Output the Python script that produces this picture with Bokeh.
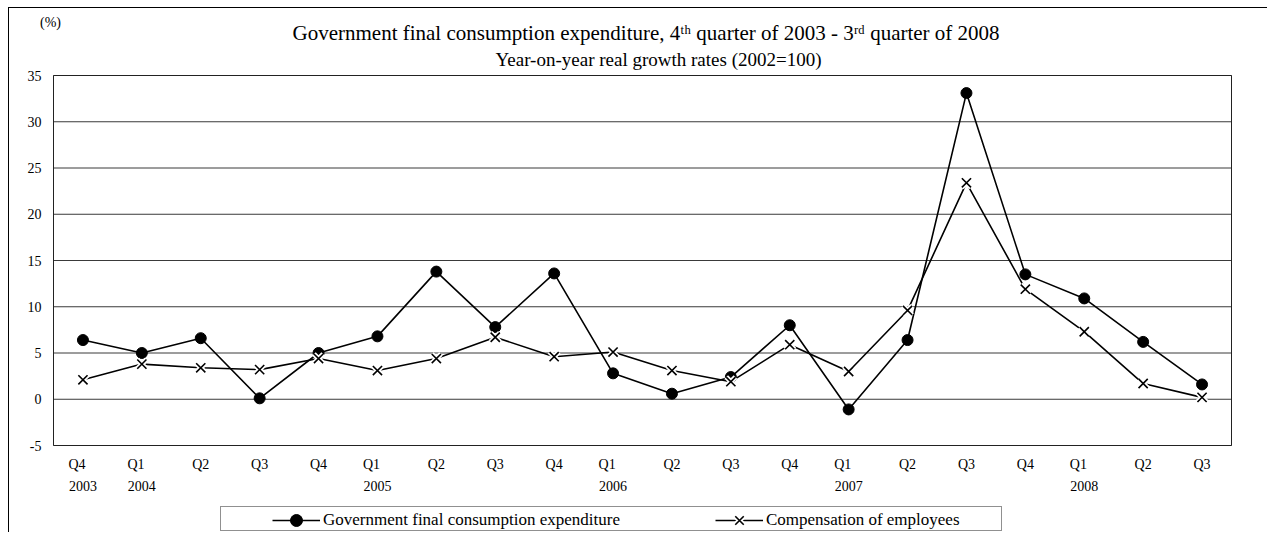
import numpy as np
from bokeh.plotting import figure
from bokeh.models import Range1d, Legend, LegendItem, Label
from bokeh.core.properties import value
from bokeh.embed import file_html
from bokeh.resources import INLINE

# ---------------- data ----------------
quarters = ["Q4", "Q1", "Q2", "Q3", "Q4", "Q1", "Q2", "Q3", "Q4", "Q1",
            "Q2", "Q3", "Q4", "Q1", "Q2", "Q3", "Q4", "Q1", "Q2", "Q3"]
years = ["2003", "2004", "", "", "", "2005", "", "", "", "2006",
         "", "", "", "2007", "", "", "", "2008", "", ""]
gov_expenditure = [6.4, 5.0, 6.6, 0.1, 5.0, 6.8, 13.8, 7.8, 13.6, 2.8,
                   0.6, 2.4, 8.0, -1.1, 6.4, 33.1, 13.5, 10.9, 6.2, 1.6]
compensation = [2.1, 3.8, 3.4, 3.2, 4.4, 3.1, 4.4, 6.7, 4.6, 5.1,
                3.1, 1.9, 5.9, 3.0, 9.6, 23.4, 11.9, 7.3, 1.7, 0.2]
y_ticks = [-5, 0, 5, 10, 15, 20, 25, 30, 35]
series_names = ["Government final consumption expenditure", "Compensation of employees"]
title_text = ("Government final consumption expenditure, 4\u1d57\u02b0 quarter of 2003 - "
              "3\u02b3\u1d48 quarter of 2008")
subtitle = "Year-on-year real growth rates (2002=100)"
unit_label = "(%)"

# ---------------- layout (page pixels) ----------------
FONT = "Liberation Serif"
W, H = 1259, 525                 # canvas size
CX0, CY0 = 9, 8                  # canvas origin on the page (margin + outer border)
PL, PR, PT, PB = 53, 1231, 75, 445   # plot area on the page
N = len(quarters)
YMIN, YMAX = y_ticks[0], y_ticks[-1]
kx = (PR - PL) / N
ky = (PB - PT) / (YMAX - YMIN)

def X(page_x):
    return (page_x - PL) / kx

def Y(page_y):
    return YMIN + (PB - page_y) / ky

x_range = Range1d(X(CX0), X(CX0 + W))
y_range = Range1d(Y(CY0 + H), Y(CY0))

p = figure(width=W, height=H, x_range=x_range, y_range=y_range,
           output_backend="svg", toolbar_location=None,
           x_axis_location=None, y_axis_location=None,
           min_border=0, min_border_left=0, min_border_right=0,
           min_border_top=0, min_border_bottom=0)
p.styles = {"margin-left": "8px", "margin-top": "7px",
            "border-top": "1px solid #000", "border-left": "1px solid #000"}
p.background_fill_color = "white"
p.border_fill_color = "white"
p.outline_line_color = None
p.grid.visible = False

x = np.arange(N) + 0.5

# ---------------- plot area: gridlines, border ----------------
p.segment(x0=[0] * len(y_ticks), x1=[N] * len(y_ticks), y0=y_ticks, y1=y_ticks,
          line_color="#3a3a3a", line_width=1)
p.quad(left=[0], right=[N], bottom=[YMIN], top=[YMAX], fill_color=None,
       line_color="#222222", line_width=1)

# ---------------- tick labels ----------------
p.text(x=[X(41)] * len(y_ticks), y=y_ticks, text=[str(t) for t in y_ticks],
       text_align="right", text_baseline="middle", text_font=value(FONT),
       text_font_size="14px", text_color="black")
qpos = [i + 0.5 - (0.1 if years[i] else 0.0) for i in range(N)]
p.text(x=qpos, y=[Y(464)] * N, text=quarters, text_align="center",
       text_baseline="middle", text_font=value(FONT), text_font_size="14px",
       text_color="black")
yidx = [i for i in range(N) if years[i]]
p.text(x=[i + 0.5 for i in yidx], y=[Y(485)] * len(yidx), text=[years[i] for i in yidx],
       text_align="center", text_baseline="middle", text_font=value(FONT),
       text_font_size="14px", text_color="black")

# ---------------- series ----------------
l1 = p.line(x, gov_expenditure, line_color="black", line_width=1.6)
l2 = p.line(x, compensation, line_color="black", line_width=1.6)
c1 = p.scatter(x, gov_expenditure, marker="circle", size=11, fill_color="black", line_color="black")
h2 = p.scatter(x, compensation, marker="x", size=13, line_color="white", line_width=5)
x2 = p.scatter(x, compensation, marker="x", size=13, line_color="black", line_width=1.6)

# ---------------- titles ----------------
p.add_layout(Label(x=X(292), y=Y(32), text=title_text, text_align="left",
                   text_baseline="middle", text_font=FONT, text_font_size="21px",
                   text_color="black"))
p.add_layout(Label(x=X(658), y=Y(59), text=subtitle, text_align="center",
                   text_baseline="middle", text_font=FONT, text_font_size="19px",
                   text_color="black"))
p.add_layout(Label(x=X(50), y=Y(22), text=unit_label, text_align="center",
                   text_baseline="middle", text_font=FONT, text_font_size="14px",
                   text_color="black"))

# ---------------- legend (frame box + items) ----------------
dummy = p.scatter(x[:1], compensation[:1], marker="circle", size=1,
                  fill_alpha=0, line_alpha=0)
box = Legend(items=[LegendItem(label=" ", renderers=[dummy])],
             location=(220 - CX0, CY0 + H - 531), orientation="horizontal",
             padding=0, margin=0, glyph_width=0, glyph_height=23, label_standoff=0,
             label_width=780, label_height=23, border_line_color="#222222",
             border_line_width=1, background_fill_color="white", background_fill_alpha=1.0)
p.add_layout(box, "center")
leg = Legend(items=[LegendItem(label=series_names[0], renderers=[l1, c1]),
                    LegendItem(label=series_names[1], renderers=[l2, h2, x2])],
             location=(272 - CX0, CY0 + H - 535), orientation="horizontal",
             padding=0, margin=0, glyph_width=48, glyph_height=30, label_standoff=3,
             label_height=30, spacing=95, border_line_color=None,
             background_fill_alpha=0,
             label_text_font=FONT, label_text_font_size="17px", label_text_color="black")
p.add_layout(leg, "center")

open("out.html", "w").write(file_html(p, INLINE))
